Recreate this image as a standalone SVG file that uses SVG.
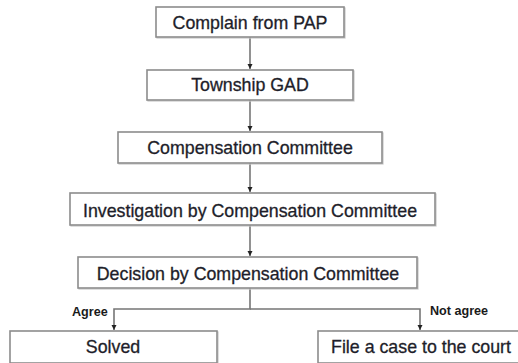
<svg xmlns="http://www.w3.org/2000/svg" width="518" height="363" viewBox="0 0 518 363">
<style>
.box{fill:#fff;stroke:#8c8c8c;stroke-width:1.6}
.sh{fill:none;stroke:#c8c8c8;stroke-width:1.2}
.t{font-family:"Liberation Sans",Arial,sans-serif;font-size:17.8px;fill:#1e1e2a;stroke:#1e1e2a;stroke-width:0.3;text-anchor:middle}
.lbl{font-family:"Liberation Sans",Arial,sans-serif;font-size:12.6px;font-weight:bold;fill:#1a1a1a}
.c{fill:none;stroke:#767676;stroke-width:1.6}
</style>
<defs>
<marker id="ah" markerWidth="6" markerHeight="6" refX="5" refY="2.5" orient="auto" markerUnits="userSpaceOnUse">
<path d="M0,0 L5,2.5 L0,5 Z" fill="#222"/>
</marker>
</defs>
<rect width="518" height="363" fill="#fff"/>
<g id="connectors">
<path class="c" d="M250,37 V69" marker-end="url(#ah)"/>
<path class="c" d="M250,100 V131" marker-end="url(#ah)"/>
<path class="c" d="M250,163 V192" marker-end="url(#ah)"/>
<path class="c" d="M250,225 V256" marker-end="url(#ah)"/>
<path class="c" d="M250,288 V309 H114 V330" marker-end="url(#ah)"/>
<path class="c" d="M250,309 H420 V330" marker-end="url(#ah)"/>
<text class="lbl" x="72" y="316">Agree</text>
<text class="lbl" x="430" y="315">Not agree</text>
</g>
<g id="n1">
<rect class="sh" x="157" y="8" width="188" height="30"/>
<rect class="box" x="156" y="7" width="188" height="30"/>
<text class="t" x="250" y="28.5">Complain from PAP</text>
</g>
<g id="n2">
<rect class="sh" x="148" y="71" width="206" height="30"/>
<rect class="box" x="147" y="70" width="206" height="30"/>
<text class="t" x="250" y="90.5">Township GAD</text>
</g>
<g id="n3">
<rect class="sh" x="119" y="133" width="264" height="31"/>
<rect class="box" x="118" y="132" width="264" height="31"/>
<text class="t" x="250" y="153.5">Compensation Committee</text>
</g>
<g id="n4">
<rect class="sh" x="71" y="194" width="365" height="32"/>
<rect class="box" x="70" y="193" width="365" height="32"/>
<text class="t" x="250" y="216.5">Investigation by Compensation Committee</text>
</g>
<g id="n5">
<rect class="sh" x="79" y="258" width="339" height="31"/>
<rect class="box" x="78" y="257" width="339" height="31"/>
<text class="t" x="248" y="279.5">Decision by Compensation Committee</text>
</g>
<g id="n6">
<rect class="sh" x="11" y="332" width="207" height="32"/>
<rect class="box" x="10" y="331" width="207" height="32"/>
<text class="t" x="113" y="353">Solved</text>
</g>
<g id="n7">
<rect class="sh" x="319" y="332" width="202" height="32"/>
<rect class="box" x="318" y="331" width="202" height="32"/>
<text class="t" x="421" y="353">File a case to the court</text>
</g>
</svg>
